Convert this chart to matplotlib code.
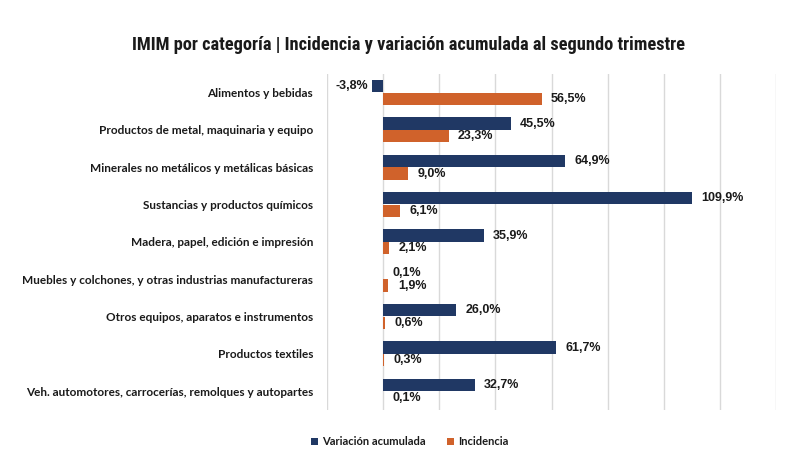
import numpy as np
import matplotlib.pyplot as plt
from matplotlib import font_manager

categorias = [
    "Alimentos y bebidas",
    "Productos de metal, maquinaria y equipo",
    "Minerales no metálicos y metálicas básicas",
    "Sustancias y productos químicos",
    "Madera, papel, edición e impresión",
    "Muebles y colchones, y otras industrias manufactureras",
    "Otros equipos, aparatos e instrumentos",
    "Productos textiles",
    "Veh. automotores, carrocerías, remolques y autopartes",
]
variacion = [-3.8, 45.5, 64.9, 109.9, 35.9, 0.1, 26.0, 61.7, 32.7]
incidencia = [56.5, 23.3, 9.0, 6.1, 2.1, 1.9, 0.6, 0.3, 0.1]

azul = "#203864"
naranja = "#D0622B"

# condensed font for the title if there is one
titulo_font, titulo_size = "Liberation Sans", 10.6
for fam, size in [("Liberation Sans Narrow", 13.2), ("Roboto Condensed", 13.2), ("Open Sans Condensed", 13.2)]:
    try:
        font_manager.findfont(font_manager.FontProperties(family=fam), fallback_to_default=False)
        titulo_font, titulo_size = fam, size
        break
    except Exception:
        pass

fig = plt.figure(figsize=(7.88, 4.68), dpi=100)
ax = fig.add_axes([0.415, 0.124, 0.570, 0.718])

y = np.arange(len(categorias))
h = 0.33
d = 0.17
ax.barh(y - d, variacion, height=h, color=azul, label="Variación acumulada")
ax.barh(y + d, incidencia, height=h, color=naranja, label="Incidencia")

def fmt(v):
    return f"{v:.1f}%".replace(".", ",")

lab_font = dict(family="Liberation Sans", fontweight="bold", fontsize=9, color="#1a1a1a")
for yi, v in zip(y, variacion):
    if v < 0:
        ax.text(v - 1.5, yi - d, fmt(v), ha="right", va="center", **lab_font)
    else:
        ax.text(v + 3.3, yi - d, fmt(v), ha="left", va="center", **lab_font)
for yi, v in zip(y, incidencia):
    ax.text(v + 3.3, yi + d, fmt(v), ha="left", va="center", **lab_font)

ax.set_xlim(-20, 140)
ax.set_ylim(len(categorias) - 0.5, -0.5)
ax.set_xticks(np.arange(-20, 141, 20))
ax.xaxis.grid(True, color="#D9D9D9", linewidth=1)
ax.set_axisbelow(True)
ax.tick_params(axis="x", length=0, labelbottom=False)
ax.set_yticks(y)
ax.set_yticklabels(categorias, family="Lato", fontweight="bold", fontsize=8.5, color="#1a1a1a")
ax.tick_params(axis="y", length=0, pad=10)
for s in ax.spines.values():
    s.set_visible(False)

fig.text(0.519, 0.904, "IMIM por categoría | Incidencia y variación acumulada al segundo trimestre",
         ha="center", va="center", family=titulo_font, fontweight="bold",
         fontsize=titulo_size, color="#1a1a1a")

leg = fig.legend(loc="center", bbox_to_anchor=(0.52, 0.056), ncol=2, frameon=False,
                 handlelength=0.6, handleheight=0.6, handletextpad=0.35, columnspacing=2.0,
                 prop=dict(family="Lato", weight="bold", size=8))
for t in leg.get_texts():
    t.set_color("#1a1a1a")

fig.savefig("out.png", dpi=100)
